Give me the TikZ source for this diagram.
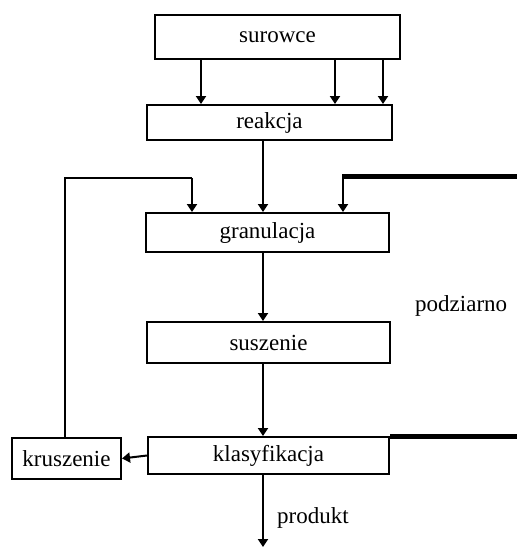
\documentclass[tikz,border=0pt]{standalone}
\usepackage{fontspec}
\setmainfont{Liberation Serif}
\usetikzlibrary{arrows.meta}
\tikzset{
  box/.style={draw, line width=2pt, fill=white, inner sep=0pt, font=\fontsize{23}{25}\selectfont},
  lbl/.style={inner sep=0pt, font=\fontsize{23}{25}\selectfont},
  conn/.style={line width=2pt},
  arr/.style={line width=2pt, -{Triangle[width=10pt,length=8pt]}},
  heavy/.style={line width=5pt}
}
\begin{document}
\begin{tikzpicture}[x=1pt,y=-1pt]
\useasboundingbox (0,0) rectangle (517,547);
\node[box, minimum width=245pt, minimum height=44pt] (sur) at (277.5,37) {surowce};
\node[box, minimum width=245pt, minimum height=35pt] (rea) at (269.5,122.5) {reakcja};
\node[box, minimum width=243pt, minimum height=39pt] (gra) at (267.5,232.5) {granulacja};
\node[box, minimum width=243pt, minimum height=41pt] (sus) at (268.5,342.5) {suszenie};
\node[box, minimum width=241pt, minimum height=37pt] (kla) at (268.5,455.5) {klasyfikacja};
\node[box, minimum width=109pt, minimum height=41pt] (kru) at (66.5,458.5) {kruszenie};
\node[lbl, anchor=base west] (pod) at (415,311) {podziarno};
\node[lbl, anchor=base west] (pro) at (277,523) {produkt};
% helper coordinates
\coordinate (x1) at (201,0);
\coordinate (x2) at (335,0);
\coordinate (x3) at (383,0);
\coordinate (g1) at (192,178);
\coordinate (g3) at (343,176);
\coordinate (lt) at (65,178);
\coordinate (re) at (517,176);
\coordinate (ke) at (517,436.5);
\coordinate (pe) at (263,547);
% surowce -> reakcja
\draw[arr] (sur.south -| x1) -- (rea.north -| x1);
\draw[arr] (sur.south -| x2) -- (rea.north -| x2);
\draw[arr] (sur.south -| x3) -- (rea.north -| x3);
% reakcja -> granulacja
\draw[arr] (rea.south -| pe) -- (gra.north -| pe);
% recycle loop
\draw[conn] (kru.north -| lt) -- (lt) -- (g1);
\draw[arr] (g1) -- (gra.north -| g1);
% podziarno return
\draw[heavy] (re) -- ([xshift=-1pt]g3);
\draw[arr] ([yshift=2pt]g3) -- (gra.north -| g3);
% granulacja -> suszenie -> klasyfikacja
\draw[arr] (gra.south -| pe) -- (sus.north -| pe);
\draw[arr] (sus.south -| pe) -- (kla.north -| pe);
% klasyfikacja -> kruszenie
\draw[arr] (kla.west) -- (kru.east);
% klasyfikacja heavy outlet
\draw[heavy] (kla.north east |- ke) -- (ke);
% produkt
\draw[arr] (kla.south -| pe) -- (pe);
\end{tikzpicture}
\end{document}
